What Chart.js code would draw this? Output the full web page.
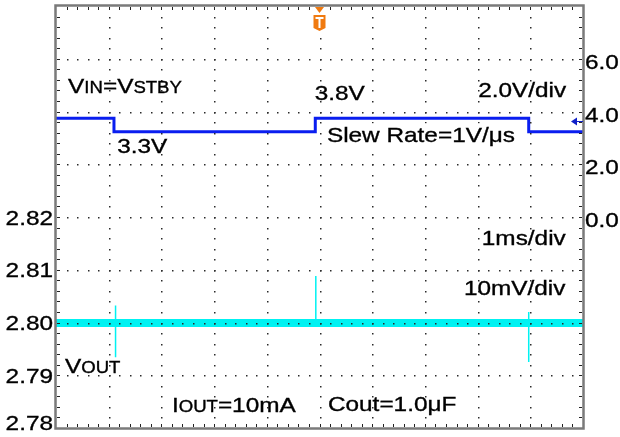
<!DOCTYPE html>
<html>
<head>
<meta charset="utf-8">
<script src="https://cdn.jsdelivr.net/npm/chart.js@4.4.0/dist/chart.umd.min.js"></script>
<style>
  html, body { margin: 0; padding: 0; background: #fff; }
  #wrap { width: 620px; height: 437px; }
</style>
</head>
<body>
<div id="wrap"><canvas id="scope" width="620" height="437"></canvas></div>
<script>
// VIN step waveform (time in ms, right axis in V)
const vinTime = [0, 1.1, 1.1, 4.92, 4.92, 8.97, 8.97, 10];
const vinVolt = [3.74, 3.74, 3.23, 3.23, 3.74, 3.74, 3.23, 3.23];

// VOUT noise band (left axis in V)
const voutTime = [0, 10];
const voutVolt = [2.7999, 2.7999];

// VOUT spikes at the VIN edges
const spikeTime = [1.13, 4.93, 8.97];
const spikeHigh = [2.8032, 2.8088, 2.8020];
const spikeLow = [2.7934, 2.7995, 2.7925];

// tick labels
const leftTicks = ['2.78', '2.79', '2.80', '2.81', '2.82'];
const rightTicks = ['0.0', '2.0', '4.0', '6.0'];

// annotations: [parts, x(ms), y, axis]
const notes = [
  [[['V', 21], ['IN', 16], ['=V', 21], ['STBY', 16]], 0.23, 4.70, 'yR'],
  [[['3.8V', 21]], 4.91, 4.44, 'yR'],
  [[['3.3V', 21]], 1.16, 2.43, 'yR'],
  [[['2.0V/div', 21]], 8.01, 4.55, 'yR'],
  [[['Slew Rate=1V/\u03bcs', 21]], 5.14, 2.84, 'yR'],
  [[['1ms/div', 21]], 8.08, 2.8147, 'yL'],
  [[['10mV/div', 21]], 7.74, 2.8052, 'yL'],
  [[['V', 21], ['OUT', 16]], 0.17, 2.7904, 'yL'],
  [[['I', 21], ['OUT', 16], ['=10mA', 21]], 2.20, 2.7830, 'yL'],
  [[['Cout=1.0\u03bcF', 21]], 5.16, 2.7832, 'yL']
];

const SX = 1.16; // text is a bit wide in the scope capture
const FONT = '"Liberation Sans", Arial, sans-serif';

function textWidth(ctx, parts) {
  let w = 0;
  parts.forEach(p => { ctx.font = p[1] + 'px ' + FONT; w += ctx.measureText(p[0]).width; });
  return w * SX;
}

function drawParts(ctx, parts, x, y, align) {
  ctx.save();
  let start = x;
  if (align === 'right') start = x - textWidth(ctx, parts);
  ctx.translate(start, y);
  ctx.scale(SX, 1);
  ctx.fillStyle = '#000';
  ctx.strokeStyle = '#000';
  ctx.lineWidth = 0.35;
  ctx.textBaseline = 'alphabetic';
  ctx.textAlign = 'left';
  let cx = 0;
  parts.forEach(p => {
    ctx.font = p[1] + 'px ' + FONT;
    ctx.fillText(p[0], cx, 0);
    ctx.strokeText(p[0], cx, 0);
    cx += ctx.measureText(p[0]).width;
  });
  ctx.restore();
}

const spikeData = [];
spikeTime.forEach((t, i) => {
  spikeData.push({ x: t, y: spikeLow[i] });
  spikeData.push({ x: t, y: spikeHigh[i] });
  spikeData.push({ x: t, y: null });
});

const scopePlugin = {
  id: 'scope',
  afterDatasetsDraw(chart) {
    const ctx = chart.ctx;
    const a = chart.chartArea;
    const x = chart.scales.x, yL = chart.scales.yL, yR = chart.scales.yR;
    const w = a.right - a.left, h = a.bottom - a.top;
    ctx.save();

    // dotted graticule
    ctx.fillStyle = '#2a2a2a';
    for (let i = 1; i < 10; i++) {
      const px = Math.round(a.left + w * i / 10);
      for (let j = 1; j < 40; j++) ctx.fillRect(px, Math.round(a.top + h * j / 40), 1.5, 1.5);
    }
    for (let i = 1; i < 8; i++) {
      const py = Math.round(a.top + h * i / 8);
      for (let j = 1; j < 50; j++) ctx.fillRect(Math.round(a.left + w * j / 50), py, 1.5, 1.5);
    }

    // border with small ticks
    ctx.strokeStyle = '#7a7a7a';
    ctx.lineWidth = 2.5;
    ctx.strokeRect(a.left - 0.5, a.top - 0.5, w + 1, h + 1);
    ctx.fillStyle = '#222';
    for (let j = 1; j < 50; j++) {
      const px = Math.round(a.left + w * j / 50);
      ctx.fillRect(px, a.top + 1, 1, 3);
      ctx.fillRect(px, a.bottom - 4, 1, 3);
    }
    for (let j = 1; j < 40; j++) {
      const py = Math.round(a.top + h * j / 40);
      ctx.fillRect(a.left + 1, py, 3, 1);
      ctx.fillRect(a.right - 4, py, 3, 1);
    }

    // trigger marker
    const tx = x.getPixelForValue(5.0);
    ctx.fillStyle = '#f07a10';
    ctx.beginPath();
    ctx.moveTo(tx - 4.5, a.top + 1); ctx.lineTo(tx + 4.5, a.top + 1); ctx.lineTo(tx, a.top + 7);
    ctx.closePath(); ctx.fill();
    ctx.beginPath();
    ctx.moveTo(tx - 6, a.top + 9); ctx.lineTo(tx + 6, a.top + 9);
    ctx.lineTo(tx + 6, a.top + 22); ctx.lineTo(tx, a.top + 25); ctx.lineTo(tx - 6, a.top + 22);
    ctx.closePath(); ctx.fill();
    ctx.fillStyle = '#fff';
    ctx.fillRect(tx - 4, a.top + 11, 8, 2);
    ctx.fillRect(tx - 1, a.top + 11, 2, 11);

    // channel reference marker
    const ry = yR.getPixelForValue(3.62);
    ctx.fillStyle = '#1020c8';
    ctx.beginPath();
    ctx.moveTo(a.right - 12, ry); ctx.lineTo(a.right - 6, ry - 4); ctx.lineTo(a.right - 6, ry + 4);
    ctx.closePath(); ctx.fill();
    ctx.fillRect(a.right - 6, ry - 0.5, 6, 1);

    // white box behind slew rate note
    ctx.fillStyle = '#fff';
    ctx.fillRect(x.getPixelForValue(5.08), yR.getPixelForValue(3.55), 200, 28);

    // notes
    notes.forEach(n => {
      const sc = chart.scales[n[3]];
      drawParts(ctx, n[0], x.getPixelForValue(n[1]), sc.getPixelForValue(n[2]), 'left');
    });

    // tick labels
    leftTicks.forEach(t => {
      let by = yL.getPixelForValue(parseFloat(t)) + 7.5;
      if (by > chart.height - 7) by = chart.height - 7;
      drawParts(ctx, [[t, 21]], a.left - 3, by, 'right');
    });
    rightTicks.forEach(t => {
      const by = yR.getPixelForValue(parseFloat(t)) + 10;
      drawParts(ctx, [[t, 21]], a.right + 2, by, 'left');
    });
    ctx.restore();
  }
};

new Chart(document.getElementById('scope'), {
  type: 'line',
  data: {
    datasets: [{
      label: 'VOUT',
      data: voutTime.map((t, i) => ({ x: t, y: voutVolt[i] })),
      yAxisID: 'yL',
      borderColor: '#00f2f2',
      borderWidth: 8,
      pointRadius: 0
    }, {
      label: 'VOUT spikes',
      data: spikeData,
      yAxisID: 'yL',
      borderColor: '#00f2f2',
      borderWidth: 1.5,
      pointRadius: 0,
      spanGaps: false
    }, {
      label: 'VIN',
      data: vinTime.map((t, i) => ({ x: t, y: vinVolt[i] })),
      yAxisID: 'yR',
      borderColor: '#0a1ef0',
      borderWidth: 3,
      pointRadius: 0
    }]
  },
  options: {
    responsive: false,
    devicePixelRatio: 1,
    animation: false,
    layout: { padding: { left: 56, right: 37, top: 6, bottom: 9 } },
    plugins: { legend: { display: false }, tooltip: { enabled: false } },
    elements: { line: { tension: 0 } },
    scales: {
      x: { type: 'linear', min: 0, max: 10, display: false },
      yL: { type: 'linear', position: 'left', min: 2.78, max: 2.86, display: false },
      yR: { type: 'linear', position: 'right', min: -8, max: 8, display: false }
    }
  },
  plugins: [scopePlugin]
});
</script>
</body>
</html>
